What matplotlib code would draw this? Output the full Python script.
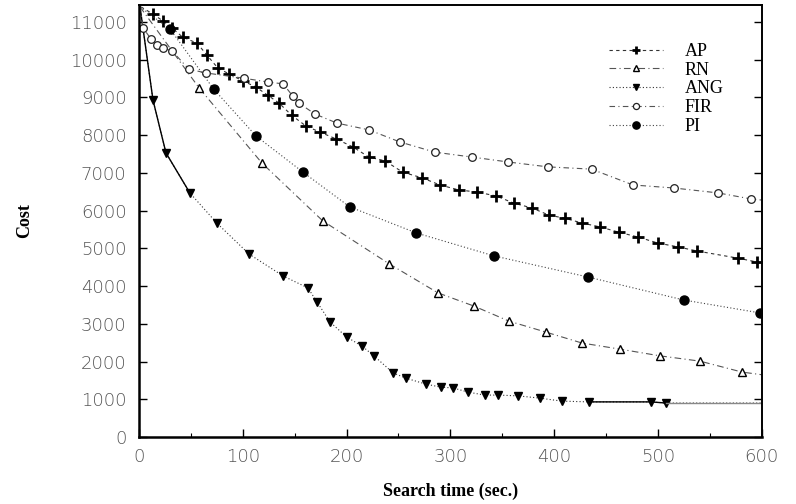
import matplotlib
matplotlib.use("Agg")
import matplotlib.pyplot as plt
from matplotlib.ticker import MultipleLocator

# ---- data ----
ap_x = [2, 13.5, 23, 32, 42, 56, 65.5, 76, 87, 100, 112.5, 124, 135, 147, 161, 174.5, 190, 206,
        221.5, 237, 254, 272.6, 290, 308, 326, 344, 361, 378.6, 395, 410, 427, 444, 462, 480.7,
        500, 519, 537.6, 577, 595, 600]
ap_y = [11400, 11210, 11030, 10840, 10600, 10440, 10120, 9780, 9620, 9440, 9280, 9060, 8850,
        8530, 8240, 8080, 7900, 7690, 7420, 7320, 7020, 6870, 6680, 6550, 6490, 6390, 6200,
        6070, 5880, 5800, 5670, 5570, 5430, 5300, 5140, 5040, 4930, 4740, 4640, 4600]

rn_x = [1, 58, 118.5, 177, 241, 288, 322.7, 356.5, 392, 426.8, 463, 502, 540.5, 581, 600]
rn_y = [11400, 9250, 7260, 5730, 4590, 3820, 3470, 3070, 2780, 2490, 2330, 2150, 2010, 1720, 1650]

ang_x = [1, 13.5, 26, 49, 75, 106, 138.7, 162.8, 171.5, 184, 200, 214.8, 226.4, 244.7, 257,
         276.5, 291, 302.5, 317, 333, 346, 365, 386, 407.5, 433.5, 493, 507.7, 600]
ang_y = [11400, 8930, 7530, 6470, 5670, 4850, 4270, 3950, 3580, 3050, 2650, 2410, 2150, 1700,
         1560, 1400, 1320, 1300, 1190, 1110, 1110, 1090, 1030, 950, 930, 930, 900, 900]

fir_x = [1, 4, 11.6, 17, 23, 32, 48, 64.5, 101, 124, 139, 148, 154, 169.6, 190.8, 221.6, 251.4,
         285, 320.8, 355.5, 394, 436, 476, 515.4, 557.8, 589.6, 600]
fir_y = [11400, 10840, 10550, 10390, 10310, 10230, 9750, 9650, 9510, 9410, 9360, 9040, 8850,
         8560, 8320, 8140, 7820, 7550, 7420, 7290, 7160, 7100, 6680, 6600, 6470, 6310, 6280]

pi_x = [1, 30, 72, 112.7, 158, 203, 267, 342, 432.6, 525, 598]
pi_y = [11400, 10810, 9220, 7980, 7020, 6100, 5410, 4800, 4240, 3630, 3290]

labels = ["AP", "RN", "ANG", "FIR", "PI"]
xticks = [0, 100, 200, 300, 400, 500, 600]
yticks = list(range(0, 12000, 1000))

# ---- figure ----
fig = plt.figure(figsize=(7.96, 5.04), dpi=100)
ax = fig.add_axes([0.1746, 0.133, 0.957 - 0.1746, 0.990 - 0.133])

line_c = "#333333"
lw = 0.8

# AP
ax.plot(ap_x, ap_y, linestyle=(0, (3, 3)), color=line_c, lw=lw,
        marker="+", ms=8, mew=2.0, mec="black", markevery=list(range(1, len(ap_x) - 1)),
        label=labels[0])
# RN
ax.plot(rn_x, rn_y, linestyle=(0, (6, 3, 1, 3)), color="#555555", lw=lw,
        marker="^", ms=5.5, mfc="white", mec="black", mew=1.0,
        markevery=list(range(1, len(rn_x) - 1)), label=labels[1])
# ANG
ax.plot(ang_x, ang_y, linestyle=(0, (1, 2)), color=line_c, lw=lw,
        marker="v", ms=6, mfc="black", mec="black",
        markevery=list(range(1, len(ang_x) - 1)), label=labels[2])
ax.plot(ang_x[:4], ang_y[:4], linestyle="-", color="black", lw=1.0)
ax.plot(ang_x[-4:-1], ang_y[-4:-1], linestyle="-", color="black", lw=1.0)
ax.plot(ang_x[-2:], ang_y[-2:], linestyle="-", color="#888888", lw=1.0)
# FIR
ax.plot(fir_x, fir_y, linestyle=(0, (5, 3, 1, 3)), color="#555555", lw=lw,
        marker="o", ms=5.5, mfc="white", mec="#222222", mew=0.9,
        markevery=list(range(1, len(fir_x) - 1)), label=labels[3])
# PI
ax.plot(pi_x, pi_y, linestyle=(0, (1, 2)), color="#444444", lw=lw,
        marker="o", ms=6.5, mfc="black", mec="black",
        markevery=list(range(1, len(pi_x))), label=labels[4])

ax.set_xlim(0, 600)
ax.set_ylim(0, 11450)
ax.set_xticks(xticks)
ax.set_yticks(yticks)
ax.xaxis.set_minor_locator(MultipleLocator(50))
ax.tick_params(axis="both", which="major", direction="in", length=6, width=1.0,
               labelsize=13, labelcolor="#555555", top=False, right=True)
ax.tick_params(axis="both", which="minor", direction="in", length=3, width=0.8,
               top=False, right=False)
ax.tick_params(axis="x", pad=8)
ax.tick_params(axis="y", pad=9)
for lab in ax.get_xticklabels() + ax.get_yticklabels():
    lab.set_fontweight("light")

for s in ["left", "bottom"]:
    ax.spines[s].set_linewidth(1.8)
for s in ["right", "top"]:
    ax.spines[s].set_linewidth(1.4)

ax.set_xlabel("Search time (sec.)", family="Liberation Serif", fontweight="bold",
              fontsize=13, labelpad=12)
ax.set_ylabel("Cost", family="Liberation Serif", fontweight="bold", fontsize=13, labelpad=26)

handles, labs = ax.get_legend_handles_labels()
leg = ax.legend(handles[:5], labs[:5], loc="upper right", bbox_to_anchor=(0.965, 0.95),
                frameon=False, handlelength=3.0, handletextpad=1.2, labelspacing=0.1,
                prop={"family": "Liberation Serif", "size": 13}, markerscale=0.8)

fig.savefig("out.png", dpi=100)
